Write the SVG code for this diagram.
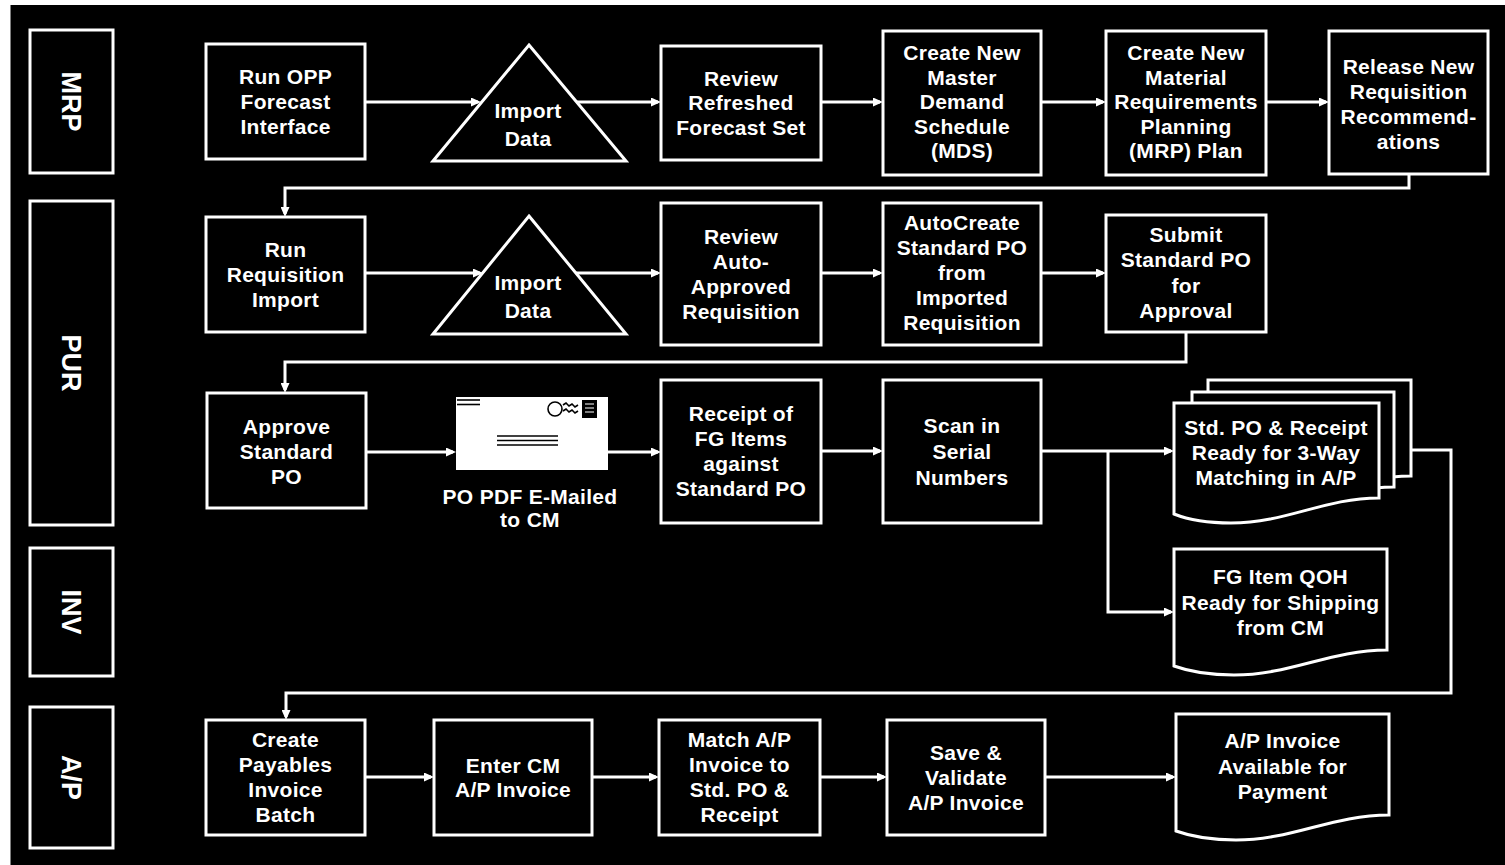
<svg xmlns="http://www.w3.org/2000/svg" width="1505" height="865" viewBox="0 0 1505 865">
<style>
.box{fill:#000;stroke:#fff;stroke-width:3}
.conn{fill:none;stroke:#fff;stroke-width:3}
.t{fill:#fff;font-family:"Liberation Sans",Arial,sans-serif;font-size:21px;font-weight:bold;text-anchor:middle;letter-spacing:0.3px}
.lt{fill:#fff;font-family:"Liberation Sans",Arial,sans-serif;font-size:27px;font-weight:bold;text-anchor:middle}
.ink{stroke:#000;stroke-width:1.6;fill:none}
</style>
<defs>
<marker id="ah" viewBox="0 0 10 9" refX="7" refY="4.5" markerWidth="10" markerHeight="9" markerUnits="userSpaceOnUse" orient="auto">
<path d="M0,0 L10,4.5 L0,9 z" fill="#fff"/>
</marker>
</defs>
<rect x="0" y="0" width="1505" height="865" fill="#fff"/>
<rect x="10.5" y="5" width="1494.5" height="860" fill="#000"/>

<g id="lane-mrp"><rect class="box" x="30" y="30" width="83" height="143"/><text class="lt" transform="translate(71.5,101.5) rotate(90)" y="9.5">MRP</text></g>
<g id="lane-pur"><rect class="box" x="30" y="201" width="83" height="324"/><text class="lt" transform="translate(71.5,363) rotate(90)" y="9.5">PUR</text></g>
<g id="lane-inv"><rect class="box" x="30" y="548" width="83" height="128"/><text class="lt" transform="translate(71.5,612) rotate(90)" y="9.5">INV</text></g>
<g id="lane-ap"><rect class="box" x="30" y="707" width="83" height="141"/><text class="lt" transform="translate(71.5,777.5) rotate(90)" y="9.5">A/P</text></g>

<g id="connectors">
<line class="conn" x1="365" y1="102" x2="478" y2="102" marker-end="url(#ah)"/>
<line class="conn" x1="577" y1="102" x2="658" y2="102" marker-end="url(#ah)"/>
<line class="conn" x1="821" y1="102" x2="880" y2="102" marker-end="url(#ah)"/>
<line class="conn" x1="1041" y1="102" x2="1103" y2="102" marker-end="url(#ah)"/>
<line class="conn" x1="1266" y1="102" x2="1326" y2="102" marker-end="url(#ah)"/>
<path class="conn" d="M1409,174 V188 H285 V214" marker-end="url(#ah)"/>
<line class="conn" x1="365" y1="273" x2="480" y2="273" marker-end="url(#ah)"/>
<line class="conn" x1="576" y1="273" x2="658" y2="273" marker-end="url(#ah)"/>
<line class="conn" x1="821" y1="273" x2="880" y2="273" marker-end="url(#ah)"/>
<line class="conn" x1="1041" y1="273" x2="1103" y2="273" marker-end="url(#ah)"/>
<path class="conn" d="M1186,332 V362 H285 V390" marker-end="url(#ah)"/>
<line class="conn" x1="366" y1="452" x2="453" y2="452" marker-end="url(#ah)"/>
<line class="conn" x1="608" y1="452" x2="658" y2="452" marker-end="url(#ah)"/>
<line class="conn" x1="821" y1="451" x2="880" y2="451" marker-end="url(#ah)"/>
<line class="conn" x1="1041" y1="451" x2="1171" y2="451" marker-end="url(#ah)"/>
<path class="conn" d="M1108,451 V612 H1171" marker-end="url(#ah)"/>
<path class="conn" d="M1411,450 H1451 V693 H286 V717" marker-end="url(#ah)"/>
<line class="conn" x1="365" y1="777" x2="431" y2="777" marker-end="url(#ah)"/>
<line class="conn" x1="592" y1="777" x2="656" y2="777" marker-end="url(#ah)"/>
<line class="conn" x1="820" y1="777" x2="884" y2="777" marker-end="url(#ah)"/>
<line class="conn" x1="1045" y1="777" x2="1173" y2="777" marker-end="url(#ah)"/>
</g>

<g id="n-runopp"><rect class="box" x="206" y="44" width="159" height="115"/>
<text class="t"><tspan x="285.5" y="84">Run OPP</tspan><tspan x="285.5" y="109">Forecast</tspan><tspan x="285.5" y="134">Interface</tspan></text></g>
<g id="n-import1"><polygon class="box" points="529,45 626,161 433,161"/>
<text class="t"><tspan x="528" y="118">Import</tspan><tspan x="528" y="146">Data</tspan></text></g>
<g id="n-review1"><rect class="box" x="661" y="46" width="160" height="114"/>
<text class="t"><tspan x="741" y="86">Review</tspan><tspan x="741" y="110">Refreshed</tspan><tspan x="741" y="135">Forecast Set</tspan></text></g>
<g id="n-mds"><rect class="box" x="883" y="31" width="158" height="144"/>
<text class="t"><tspan x="962" y="60">Create New</tspan><tspan x="962" y="84.5">Master</tspan><tspan x="962" y="109">Demand</tspan><tspan x="962" y="133.5">Schedule</tspan><tspan x="962" y="158">(MDS)</tspan></text></g>
<g id="n-mrpplan"><rect class="box" x="1106" y="31" width="160" height="144"/>
<text class="t"><tspan x="1186" y="60">Create New</tspan><tspan x="1186" y="84.5">Material</tspan><tspan x="1186" y="109">Requirements</tspan><tspan x="1186" y="133.5">Planning</tspan><tspan x="1186" y="158">(MRP) Plan</tspan></text></g>
<g id="n-release"><rect class="box" x="1329" y="31" width="159" height="143"/>
<text class="t"><tspan x="1408.5" y="74">Release New</tspan><tspan x="1408.5" y="99">Requisition</tspan><tspan x="1408.5" y="124">Recommend-</tspan><tspan x="1408.5" y="149">ations</tspan></text></g>

<g id="n-runreq"><rect class="box" x="206" y="217" width="159" height="115"/>
<text class="t"><tspan x="285.5" y="257">Run</tspan><tspan x="285.5" y="282">Requisition</tspan><tspan x="285.5" y="307">Import</tspan></text></g>
<g id="n-import2"><polygon class="box" points="529,216 626,334 433,334"/>
<text class="t"><tspan x="528" y="290">Import</tspan><tspan x="528" y="318">Data</tspan></text></g>
<g id="n-reviewauto"><rect class="box" x="661" y="203" width="160" height="142"/>
<text class="t"><tspan x="741" y="243.5">Review</tspan><tspan x="741" y="268.5">Auto-</tspan><tspan x="741" y="293.5">Approved</tspan><tspan x="741" y="318.5">Requisition</tspan></text></g>
<g id="n-autocreate"><rect class="box" x="883" y="203" width="158" height="142"/>
<text class="t"><tspan x="962" y="230">AutoCreate</tspan><tspan x="962" y="255">Standard PO</tspan><tspan x="962" y="280">from</tspan><tspan x="962" y="305">Imported</tspan><tspan x="962" y="330">Requisition</tspan></text></g>
<g id="n-submit"><rect class="box" x="1106" y="215" width="160" height="117"/>
<text class="t"><tspan x="1186" y="242">Submit</tspan><tspan x="1186" y="267">Standard PO</tspan><tspan x="1186" y="293">for</tspan><tspan x="1186" y="318">Approval</tspan></text></g>

<g id="n-approve"><rect class="box" x="207" y="393" width="159" height="115"/>
<text class="t"><tspan x="286.5" y="434">Approve</tspan><tspan x="286.5" y="459">Standard</tspan><tspan x="286.5" y="484">PO</tspan></text></g>
<g id="n-email">
<rect x="456" y="397" width="152" height="73" fill="#fff"/>
<line class="ink" x1="457" y1="400" x2="480" y2="400"/>
<line class="ink" x1="457" y1="404.5" x2="480" y2="404.5"/>
<line class="ink" x1="497" y1="436" x2="558" y2="436"/>
<line class="ink" x1="497" y1="440.5" x2="558" y2="440.5"/>
<line class="ink" x1="497" y1="445" x2="558" y2="445"/>
<circle class="ink" cx="555" cy="409" r="7"/>
<path class="ink" d="M563,405 l3,-2 l3,3 l3,-2 l3,3 l3,-2 M563,411 l3,-2 l3,3 l3,-2 l3,3 l3,-2"/>
<rect x="582" y="400" width="15" height="18" fill="#000"/>
<path d="M585,404 h9 M585,408 h9 M585,412 h9" stroke="#fff" stroke-width="1.2" fill="none"/>
<text class="t"><tspan x="530" y="504">PO PDF E-Mailed</tspan><tspan x="530" y="527">to CM</tspan></text></g>
<g id="n-receipt"><rect class="box" x="661" y="380" width="160" height="143"/>
<text class="t"><tspan x="741" y="421">Receipt of</tspan><tspan x="741" y="446">FG Items</tspan><tspan x="741" y="471">against</tspan><tspan x="741" y="496">Standard PO</tspan></text></g>
<g id="n-scan"><rect class="box" x="883" y="380" width="158" height="143"/>
<text class="t"><tspan x="962" y="433">Scan in</tspan><tspan x="962" y="459">Serial</tspan><tspan x="962" y="485">Numbers</tspan></text></g>
<g id="n-stdpo">
<path class="box" d="M1208,380 H1411 V476 C1356,476 1320,501 1265,501 C1236,501 1218,496 1208,492 Z"/>
<path class="box" d="M1192,392 H1394 V487 C1339,487 1303,512 1249,512 C1220,512 1202,507 1192,503 Z"/>
<path class="box" d="M1174,403 H1379 V498 C1324,498 1287,523 1231,523 C1203,523 1184,518 1174,514 Z"/>
<text class="t"><tspan x="1276" y="435">Std. PO &amp; Receipt</tspan><tspan x="1276" y="460">Ready for 3-Way</tspan><tspan x="1276" y="485">Matching in A/P</tspan></text></g>
<g id="n-fgqoh">
<path class="box" d="M1174,549 H1387 V650 C1330,650 1291,675 1234,675 C1204,675 1185,670 1174,666 Z"/>
<text class="t"><tspan x="1280.5" y="584">FG Item QOH</tspan><tspan x="1280.5" y="610">Ready for Shipping</tspan><tspan x="1280.5" y="635">from CM</tspan></text></g>

<g id="n-createpay"><rect class="box" x="206" y="720" width="159" height="115"/>
<text class="t"><tspan x="285.5" y="747">Create</tspan><tspan x="285.5" y="772">Payables</tspan><tspan x="285.5" y="797">Invoice</tspan><tspan x="285.5" y="822">Batch</tspan></text></g>
<g id="n-entercm"><rect class="box" x="434" y="720" width="158" height="115"/>
<text class="t"><tspan x="513" y="773">Enter CM</tspan><tspan x="513" y="797">A/P Invoice</tspan></text></g>
<g id="n-match"><rect class="box" x="659" y="720" width="161" height="115"/>
<text class="t"><tspan x="739.5" y="747">Match A/P</tspan><tspan x="739.5" y="772">Invoice to</tspan><tspan x="739.5" y="797">Std. PO &amp;</tspan><tspan x="739.5" y="822">Receipt</tspan></text></g>
<g id="n-save"><rect class="box" x="887" y="720" width="158" height="115"/>
<text class="t"><tspan x="966" y="760">Save &amp;</tspan><tspan x="966" y="785">Validate</tspan><tspan x="966" y="810">A/P Invoice</tspan></text></g>
<g id="n-apdoc">
<path class="box" d="M1176,714 H1389 V815 C1332,815 1293,840 1236,840 C1206,840 1187,835 1176,831 Z"/>
<text class="t"><tspan x="1282.5" y="748">A/P Invoice</tspan><tspan x="1282.5" y="774">Available for</tspan><tspan x="1282.5" y="799">Payment</tspan></text></g>
</svg>
